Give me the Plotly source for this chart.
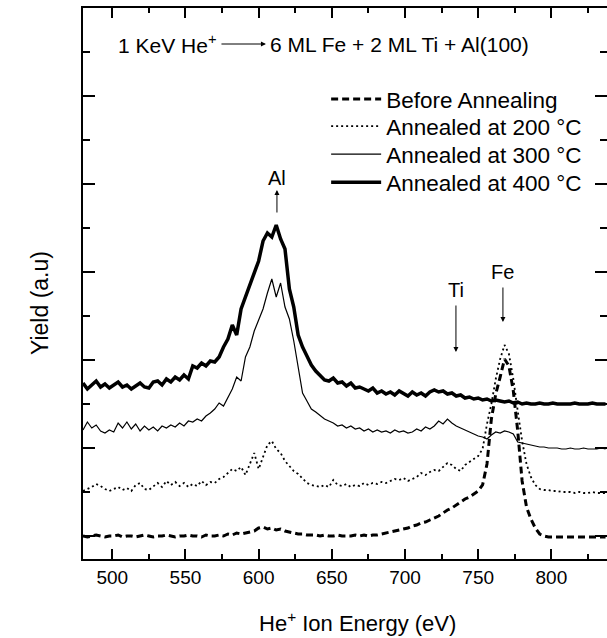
import plotly.graph_objects as go

# Energy grid (eV), 3 eV steps read across the picture
energy = list(range(480, 840, 3))

# Yield values (arbitrary units)
before_annealing = [
    23, 22, 23, 24, 23, 22, 23, 23, 24, 22,
    23, 23, 22, 23, 24, 23, 22, 23, 23, 24,
    23, 22, 23, 23, 24, 23, 23, 22, 24, 23,
    23, 24, 23, 25, 24, 26, 25, 26, 27, 28,
    31, 32, 30, 31, 29, 30, 28, 27, 26, 25,
    25, 24, 24, 24, 23, 24, 23, 23, 24, 23,
    23, 23, 24, 23, 24, 23, 24, 24, 25, 26,
    27, 28, 29, 30, 31, 33, 34, 36, 37, 39,
    41, 43, 46, 49, 51, 54, 57, 60, 62, 65,
    68, 74, 95, 140, 165, 182, 200, 193, 168, 128,
    78, 52, 40, 31, 25, 23, 22, 22, 22, 22,
    22, 22, 22, 22, 22, 22, 22, 22, 22, 22,
]
annealed_200 = [
    68, 70, 72, 75, 73, 70, 68, 70, 72, 69,
    71, 68, 74, 76, 70, 69, 73, 76, 72, 78,
    74, 77, 73, 76, 72, 75, 73, 78, 74, 77,
    76, 80, 82, 86, 90, 88, 92, 84, 96, 106,
    90, 102, 114, 118, 110, 106, 98, 93, 88, 85,
    80, 76, 74, 73, 72, 74, 72, 79, 74, 73,
    75, 72, 74, 73, 76, 74, 76, 75, 77, 76,
    78, 80, 79, 81, 78, 80, 82, 86, 84, 87,
    89, 88, 92, 96, 94, 90, 88, 94, 97, 100,
    103, 110, 135, 155, 180, 200, 214, 205, 180, 148,
    118, 95, 82, 74, 70, 69, 69, 68, 68, 67,
    67, 67, 66, 67, 66, 66, 67, 66, 66, 66,
]
annealed_300 = [
    129, 137, 131, 134, 128, 126, 129, 127, 136, 131,
    137, 130, 135, 128, 133, 129, 132, 128, 133, 131,
    134, 132, 136, 133, 138, 137, 140, 138, 143, 146,
    150, 156, 153, 162, 170, 182, 178, 202, 212, 228,
    239, 250, 266, 280, 262, 276, 252, 240, 218, 190,
    166, 158, 150, 147, 143, 140, 138, 136, 133, 134,
    131, 133, 130, 131, 128, 130, 127, 129, 127, 128,
    126, 129, 127, 128, 126, 127, 130, 128, 132, 130,
    133, 138, 135, 140, 136, 133, 131, 129, 127, 125,
    123, 122, 120, 124, 127, 126, 128, 127, 125, 117,
    116, 115, 114, 113, 112, 112, 111, 111, 111, 110,
    110, 111, 110, 110, 111, 110, 110, 110, 111, 110,
]
annealed_400 = [
    176, 170, 174, 178, 172, 175, 171, 174, 177, 172,
    174, 170, 173, 176, 172, 171, 177, 178, 174, 180,
    177, 182, 179, 184, 180, 193, 191, 196, 193, 198,
    197, 202, 212, 220, 234, 224, 250, 262, 274, 286,
    298, 318, 326, 322, 334, 320, 310, 270, 252, 224,
    212, 203, 194, 188, 183, 179, 178, 181, 176, 177,
    173, 176, 171, 172, 170, 168, 171, 166, 168, 165,
    167, 164, 168, 165, 163, 167, 164, 166, 163, 167,
    169, 167, 168, 165, 166, 163, 164, 161, 162, 160,
    161, 159, 160, 158, 159, 158, 157, 158, 156, 157,
    155, 156, 155, 155, 156, 155, 155, 156, 155, 155,
    155, 155, 156, 155, 155, 155, 156, 155, 155, 155,
]

series_names = [
    "Before Annealing",
    "Annealed at 200 °C",
    "Annealed at 300 °C",
    "Annealed at 400 °C",
]
series_values = [before_annealing, annealed_200, annealed_300, annealed_400]
series_styles = [
    dict(color="black", width=3, dash="7px,4px"),
    dict(color="black", width=1.8, dash="2px,3px"),
    dict(color="black", width=1.2),
    dict(color="black", width=3.5),
]
legend_ids = ["legend", "legend2", "legend3", "legend4"]
legend_tops = [0.873, 0.824, 0.7731, 0.7223]

x_range = [480, 838]
y_range = [0, 551]
x_ticks = [500, 550, 600, 650, 700, 750, 800]
FONT = "Liberation Sans, Arial, sans-serif"

fig = go.Figure()
for name, vals, style, lid in zip(series_names, series_values, series_styles, legend_ids):
    fig.add_trace(go.Scatter(x=energy, y=vals, mode="lines", name=name, line=style,
                             legend=lid))

# invisible trace to carry the right-hand tick axis
fig.add_trace(go.Scatter(x=[None], y=[None], yaxis="y2", showlegend=False,
                         hoverinfo="skip"))

axis_common = dict(
    showline=True, linewidth=2, linecolor="black",
    ticks="inside", tickwidth=2, tickcolor="black",
    showgrid=False, zeroline=False,
)

legend_layout = {
    lid: dict(x=0.464, y=top, xanchor="left", yanchor="top",
              bgcolor="rgba(0,0,0,0)", font=dict(size=22.5), itemwidth=50)
    for lid, top in zip(legend_ids, legend_tops)
}

fig.update_layout(
    width=607, height=638,
    margin=dict(l=83, r=0, t=8, b=79),
    paper_bgcolor="white", plot_bgcolor="white",
    font=dict(family=FONT, color="black", size=20),
    xaxis=dict(
        range=x_range, tickvals=x_ticks, ticklen=10, mirror="ticks",
        tickfont=dict(size=19),
        minor=dict(dtick=25, tick0=500, ticklen=5, tickwidth=2, ticks="inside", tickcolor="black"),
        **axis_common,
    ),
    yaxis=dict(
        range=y_range, tick0=23, dtick=88, ticklen=12, showticklabels=False,
        minor=dict(dtick=44, tick0=23, ticklen=7, tickwidth=2, ticks="inside", tickcolor="black"),
        **axis_common,
    ),
    yaxis2=dict(
        range=y_range, overlaying="y", side="right", anchor="free", position=1,
        tick0=23, dtick=88, ticks="inside", ticklen=12, tickwidth=2, tickcolor="black",
        showticklabels=False, showline=False, showgrid=False, zeroline=False,
        minor=dict(dtick=44, tick0=23, ticklen=7, tickwidth=2, ticks="inside", tickcolor="black"),
    ),
    showlegend=True,
    **legend_layout,
)

# axis titles
fig.add_annotation(x=0.523, y=-0.1143, xref="paper", yref="paper",
                   text="He<sup>+</sup> Ion Energy (eV)", showarrow=False,
                   xanchor="center", yanchor="middle", font=dict(size=22))
fig.add_annotation(x=-0.082, y=0.4646, xref="paper", yref="paper",
                   text="Yield (a.u)", showarrow=False, textangle=-90,
                   xanchor="center", yanchor="middle", font=dict(size=23))

# title line with arrow
fig.add_annotation(x=572.5, y=515, xref="x", yref="y", text="1 KeV He<sup>+</sup>",
                   showarrow=False, xanchor="right", font=dict(size=21))
fig.add_annotation(x=605.0, y=515, xref="x", yref="y", text="", showarrow=True,
                   ax=-46, ay=0, arrowhead=2, arrowsize=1, arrowwidth=1, arrowcolor="black")
fig.add_annotation(x=606.5, y=515, xref="x", yref="y", text="6 ML Fe + 2 ML Ti + Al(100)",
                   showarrow=False, xanchor="left", font=dict(size=21))

# peak markers
fig.add_annotation(x=612.5, y=381, xref="x", yref="y", text="Al", showarrow=False,
                   font=dict(size=20))
fig.add_annotation(x=612.5, y=369, xref="x", yref="y", text="", showarrow=True,
                   ax=0, ay=24, arrowhead=2, arrowsize=1, arrowwidth=1, arrowcolor="black")
fig.add_annotation(x=734.8, y=207, xref="x", yref="y", text="Ti", showarrow=True,
                   ax=0, ay=-62, arrowhead=2, arrowsize=1, arrowwidth=1, arrowcolor="black",
                   font=dict(size=20), startstandoff=3)
fig.add_annotation(x=766.9, y=237, xref="x", yref="y", text="Fe", showarrow=True,
                   ax=0, ay=-50, arrowhead=2, arrowsize=1, arrowwidth=1, arrowcolor="black",
                   font=dict(size=20), startstandoff=3)

fig.write_html(
    "out.html",
    config={"displayModeBar": False},
    post_script="document.body.style.margin='0';document.body.style.overflow='hidden';",
)
